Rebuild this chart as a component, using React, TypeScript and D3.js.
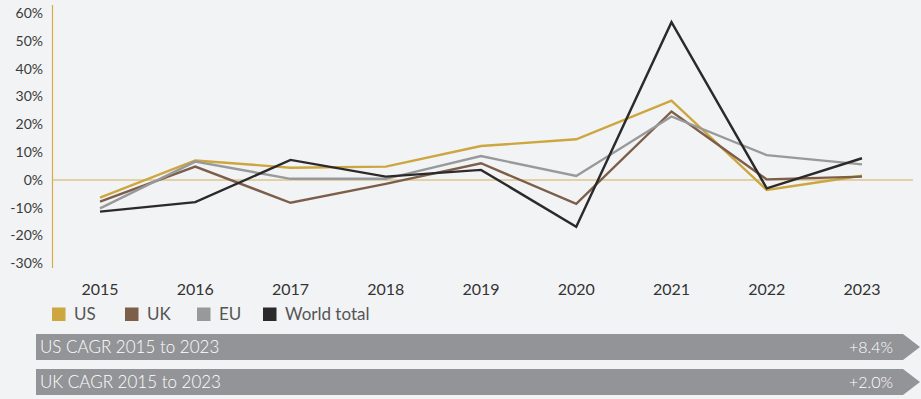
import React from "react";
import * as d3 from "d3";

const years = ["2015", "2016", "2017", "2018", "2019", "2020", "2021", "2022", "2023"];
const usValues = [-6.4, 7.0, 4.4, 4.8, 12.2, 14.6, 28.5, -3.6, 1.5];
const ukValues = [-7.8, 4.8, -8.2, -1.4, 6.0, -8.6, 24.6, 0.2, 1.2];
const euValues = [-10.2, 6.6, 0.4, 0.4, 8.6, 1.4, 22.8, 8.9, 5.6];
const worldValues = [-11.4, -8.0, 7.2, 1.2, 3.6, -16.8, 56.7, -3.0, 7.8];
const yTicks = [60, 50, 40, 30, 20, 10, 0, -10, -20, -30];
const seriesNames = ["US", "UK", "EU", "World total"];
const seriesColors = ["#cca63e", "#7c5e49", "#98999b", "#2b292a"];
const bannerLabels = ["US CAGR 2015 to 2023", "UK CAGR 2015 to 2023"];
const bannerValues = ["+8.4%", "+2.0%"];

const W = 921;
const H = 399;
const FONT = "Lato, 'Open Sans', sans-serif";

export default function App() {
  const x = d3.scalePoint<string>().domain(years).range([52.4, 909.6]).padding(0.5);
  const y = d3.scaleLinear().domain([-30, 60]).range([263.4, 13]);
  const allSeries = [usValues, ukValues, euValues, worldValues];
  const line = d3
    .line<number>()
    .x((_, i) => x(years[i]) as number)
    .y((d) => y(d));

  const legendX = [52, 125, 197, 263];
  const bannerTop = [334, 369];
  const bh = 26;

  return (
    <svg
      width={W}
      height={H}
      style={{ position: "absolute", left: 0, top: 0, background: "#f2f3f5" }}
    >
      <rect x={0} y={0} width={W} height={H} fill="#f2f3f5" />
      {yTicks.map((t) => (
        <text
          key={t}
          x={43}
          y={y(t)}
          dy="0.35em"
          textAnchor="end"
          fontFamily={FONT}
          fontSize={14}
          fill="#3a3a3a"
        >
          {t + "%"}
        </text>
      ))}
      <line x1={52} x2={913} y1={y(0)} y2={y(0)} stroke="#dcc58e" strokeWidth={1.5} />
      <line x1={52.5} x2={52.5} y1={5} y2={268} stroke="#d6ad4a" strokeWidth={1.2} />
      {allSeries.map((vals, i) => (
        <path
          key={i}
          d={line(vals) || ""}
          fill="none"
          stroke={seriesColors[i]}
          strokeWidth={2.4}
          strokeLinejoin="miter"
        />
      ))}
      {years.map((yr) => (
        <text
          key={yr}
          x={x(yr) as number}
          y={289}
          dy="0.35em"
          textAnchor="middle"
          fontFamily={FONT}
          fontSize={16}
          fill="#333"
        >
          {yr}
        </text>
      ))}
      {seriesNames.map((n, i) => (
        <g key={n}>
          <rect x={legendX[i]} y={307.5} width={13.5} height={13.5} fill={seriesColors[i]} />
          <text
            x={legendX[i] + 22}
            y={314.5}
            dy="0.35em"
            fontFamily={FONT}
            fontSize={17}
            fill="#555"
          >
            {n}
          </text>
        </g>
      ))}
      {bannerLabels.map((lab, i) => {
        const t = bannerTop[i];
        const pts = [
          [36, t],
          [903, t],
          [920, t + bh / 2],
          [903, t + bh],
          [36, t + bh],
        ]
          .map((p) => p.join(","))
          .join(" ");
        return (
          <g key={lab}>
            <polygon points={pts} fill="#939497" />
            <text
              x={40}
              y={t + bh / 2}
              dy="0.35em"
              fontFamily={FONT}
              fontSize={17}
              fontWeight={300}
              fill="#ffffff"
            >
              {lab}
            </text>
            <text
              x={893}
              y={t + bh / 2}
              dy="0.35em"
              textAnchor="end"
              fontFamily={FONT}
              fontSize={16}
              fontWeight={300}
              fill="#ffffff"
            >
              {bannerValues[i]}
            </text>
          </g>
        );
      })}
    </svg>
  );
}
